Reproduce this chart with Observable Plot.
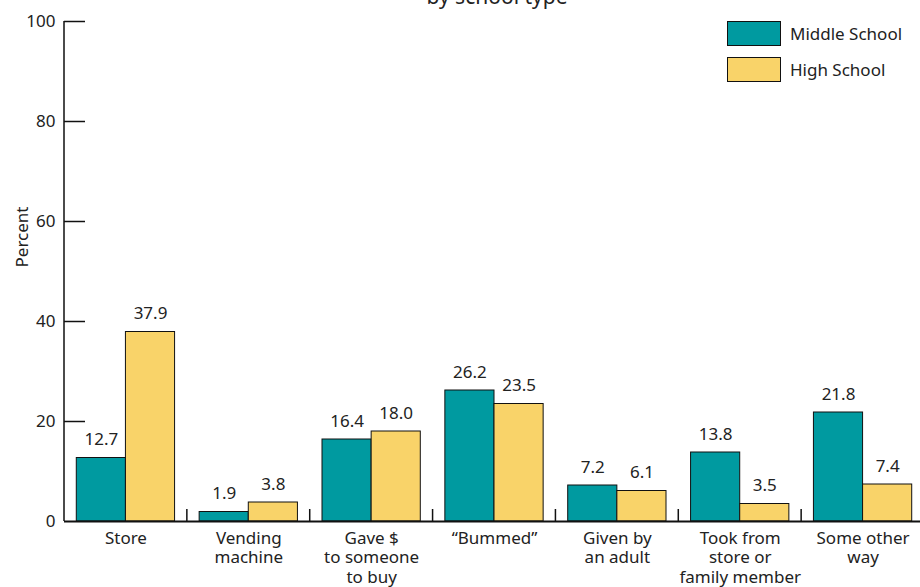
<!DOCTYPE html>
<html>
<head>
<meta charset="utf-8">
<script src="https://cdn.jsdelivr.net/npm/d3@7"></script>
<script src="https://cdn.jsdelivr.net/npm/@observablehq/plot@0.6"></script>
<style>
  html, body { margin: 0; padding: 0; background: #fff; }
  #wrap { position: relative; width: 920px; height: 587px; overflow: hidden; font-family: "Noto Sans", sans-serif; color: #222; }
  #title { position: absolute; top: -14px; left: 497px; transform: translateX(-50%); font-size: 21px; line-height: 21px; white-space: nowrap; }
  #ylabel { position: absolute; left: 21px; top: 237px; transform: translate(-50%, -50%) rotate(-90deg); font-size: 17px; white-space: nowrap; }
  .lg { position: absolute; left: 727px; width: 54px; height: 25px; box-sizing: border-box; border: 1px solid #111; }
  .lt { position: absolute; left: 790px; height: 25px; line-height: 25px; font-size: 17px; white-space: nowrap; }
  #chart { position: absolute; left: 0; top: 0; }
</style>
</head>
<body>
<div id="wrap">
  <div id="chart"></div>
  <div id="title">by school type</div>
  <div id="ylabel">Percent</div>
  <div id="legend"></div>
</div>
<script>
const categories = ["Store", "Vending machine", "Gave $ to someone to buy", "“Bummed”", "Given by an adult", "Took from store or family member", "Some other way"];
const categoryLabels = ["Store", "Vending\nmachine", "Gave $\nto someone\nto buy", "“Bummed”", "Given by\nan adult", "Took from\nstore or\nfamily member", "Some other\nway"];
const series = ["Middle School", "High School"];
const middleSchool = [12.7, 1.9, 16.4, 26.2, 7.2, 13.8, 21.8];
const highSchool = [37.9, 3.8, 18.0, 23.5, 6.1, 3.5, 7.4];
const yTicks = [0, 20, 40, 60, 80, 100];
const colors = ["#009AA0", "#F9D369"];

const ms = categories.map((c, i) => ({category: c, series: series[0], value: middleSchool[i]}));
const hs = categories.map((c, i) => ({category: c, series: series[1], value: highSchool[i]}));

const W = 920, H = 587;
const x0 = 64, x1 = 924;
const step = (x1 - x0) / categories.length;
const bw = step * 0.8;
const gap = step - bw;
const half = bw / 2;

const chart = Plot.plot({
  width: W,
  height: H,
  marginTop: 21,
  marginBottom: 66,
  marginLeft: 64,
  marginRight: 0,
  style: {fontFamily: "Noto Sans, sans-serif", fontSize: "17px", color: "#222", overflow: "visible"},
  x: {domain: categories, range: [x0, x1], paddingInner: 0.2, paddingOuter: 0.1, round: false, axis: null},
  y: {domain: [0, 100], axis: null},
  marks: [
    Plot.barY(ms, {x: "category", y: "value", fill: colors[0], stroke: "#111", strokeWidth: 1, insetRight: half}),
    Plot.barY(hs, {x: "category", y: "value", fill: colors[1], stroke: "#111", strokeWidth: 1, insetLeft: half}),
    Plot.text(ms, {x: "category", y: "value", text: d => d.value.toFixed(1), dx: -half / 2, dy: -18, fontSize: 17, fill: "#222"}),
    Plot.text(hs, {x: "category", y: "value", text: d => d.value.toFixed(1), dx: half / 2, dy: -18, fontSize: 17, fill: "#222"}),
    // y axis line and group separators
    Plot.barY(categories, {x: d => d, y1: 0, y2: d => d === categories[0] ? 100 : 2.4, fill: "#111",
      insetLeft: -(gap / 2 + 0.75), insetRight: bw + gap / 2 - 0.75}),
    Plot.ruleY(yTicks.filter(t => t > 0), {y: d => d, stroke: "#111", strokeWidth: 1.5, insetRight: (W - 64) - 21}),
    Plot.ruleY([0], {stroke: "#111", strokeWidth: 2}),
    Plot.axisY({ticks: yTicks, tickSize: 0, tickPadding: 9, fontSize: 17, label: null}),
    Plot.text(categories, {x: d => d, y: 0, text: (d, i) => categoryLabels[i], lineAnchor: "top", dy: 9, lineHeight: 1.13, fontSize: 17, fill: "#222"})
  ]
});
document.getElementById("chart").appendChild(chart);

const legend = document.getElementById("legend");
series.forEach((s, i) => {
  const top = 21 + i * 36;
  const sw = document.createElement("div");
  sw.className = "lg";
  sw.style.top = top + "px";
  sw.style.background = colors[i];
  legend.appendChild(sw);
  const t = document.createElement("div");
  t.className = "lt";
  t.style.top = top + "px";
  t.textContent = s;
  legend.appendChild(t);
});
</script>
</body>
</html>
